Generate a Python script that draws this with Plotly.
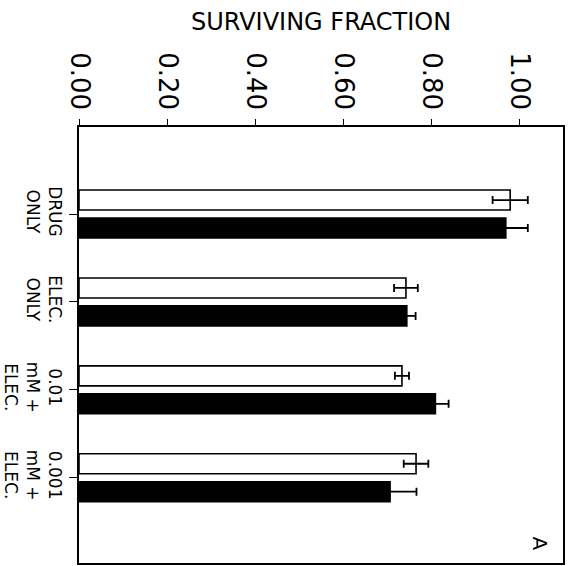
import plotly.graph_objects as go

categories = ["DRUG<br>ONLY", "ELEC.<br>ONLY", "0.01<br>mM +<br>ELEC.", "0.001<br>mM +<br>ELEC."]
open_values = [0.98, 0.743, 0.734, 0.766]
open_errors = [0.04, 0.027, 0.016, 0.028]
solid_values = [0.97, 0.745, 0.81, 0.707]
solid_errors = [0.05, 0.02, 0.03, 0.06]
x_ticks = [0.0, 0.2, 0.4, 0.6, 0.8, 1.0]
x_ticklabels = ["0.00", "0.20", "0.40", "0.60", "0.80", "1.00"]

FONT = "DejaVu Sans"

fig = go.Figure()
fig.add_trace(go.Bar(
    y=categories, x=open_values, orientation="h",
    marker=dict(color="white", line=dict(color="black", width=1.6)),
    error_x=dict(type="data", array=open_errors, color="black", thickness=1.8, width=4),
    showlegend=False,
))
fig.add_trace(go.Bar(
    y=categories, x=solid_values, orientation="h",
    marker=dict(color="black", line=dict(color="black", width=1.6)),
    error_x=dict(type="data", array=solid_errors, color="black", thickness=1.8, width=4),
    showlegend=False,
))

fig.update_layout(
    width=575, height=566,
    margin=dict(l=79, r=12, t=127, b=3, autoexpand=False),
    paper_bgcolor="white", plot_bgcolor="white",
    barmode="group", bargap=0.364, bargroupgap=0.286,
    font=dict(family=FONT, color="black"),
    xaxis=dict(
        side="top", range=[0, 1.10], tickvals=x_ticks, ticktext=x_ticklabels,
        tickangle=90, tickfont=dict(size=26, family=FONT), automargin=False,
        showline=True, linecolor="black", linewidth=1.6, mirror=True,
        ticks="outside", ticklen=6, tickwidth=1.4, tickcolor="black",
        showgrid=False, zeroline=False,
    ),
    xaxis2=dict(
        overlaying="x", side="top", range=[0, 1.10], tickvals=x_ticks,
        showticklabels=False, ticks="inside", ticklen=6, tickwidth=1.4,
        tickcolor="black", showgrid=False, zeroline=False, showline=False,
        automargin=False,
    ),
    yaxis=dict(
        range=[3.97, -0.99], tickangle=90, tickfont=dict(size=17, family=FONT),
        automargin=False,
        showline=True, linecolor="black", linewidth=1.6, mirror=True,
        ticks="outside", ticklen=8, tickwidth=1.4, tickcolor="black",
        showgrid=False, zeroline=False,
    ),
    annotations=[
        dict(text="SURVIVING FRACTION", xref="paper", yref="paper", x=0.5, y=1,
             yanchor="middle", yshift=105, showarrow=False,
             font=dict(size=24, family=FONT, color="black")),
        dict(text="A", xref="x", yref="paper", x=1.047, y=0.025, textangle=90,
             showarrow=False, font=dict(size=20, family=FONT, color="black")),
    ],
)

fig.write_html("out.html")
